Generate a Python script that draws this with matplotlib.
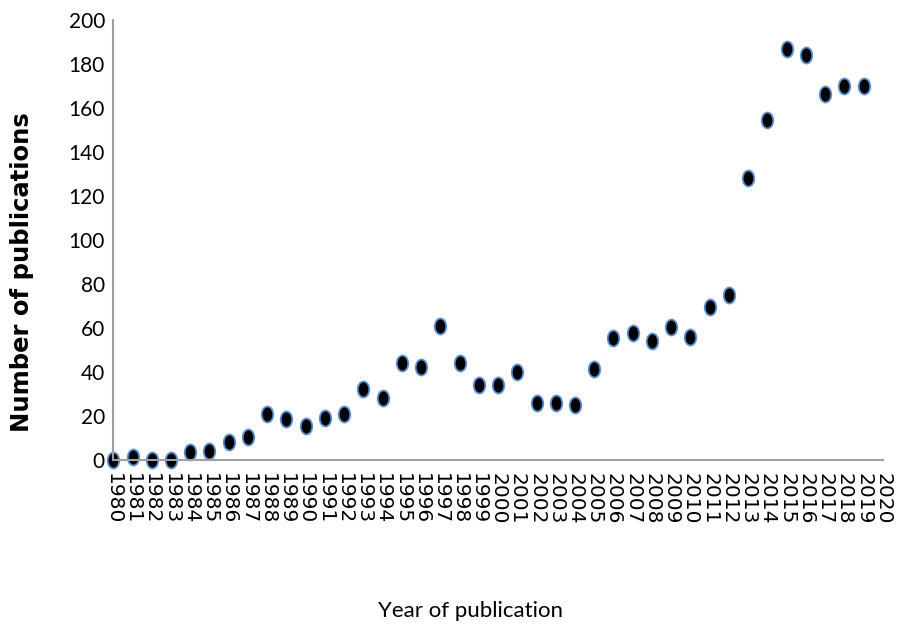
import numpy as np
import matplotlib.pyplot as plt
from matplotlib.path import Path
from matplotlib.transforms import Affine2D

# publications per year
years = list(range(1980, 2020))
pubs = [0, 1.5, 0, 0, 3.5, 4.3, 8.4, 10.7, 21, 18.6,
        15.6, 19, 21, 32.3, 28.2, 44.2, 42.3, 61, 44.2, 34.3,
        34.3, 40, 25.9, 25.9, 25.2, 41.5, 55.4, 57.7, 54.1, 60.7,
        56.1, 69.4, 75, 128.4, 154.5, 186.9, 184.1, 166.3, 170.1, 170]

xticks = list(range(1980, 2021))
yticks = list(range(0, 201, 20))

# slightly tall oval marker like the original
oval = Path.unit_circle().transformed(Affine2D().scale(0.72, 1.0))

fig = plt.figure(figsize=(8.99, 6.32), dpi=100)
ax = fig.add_axes([0.126, 0.272, 0.856, 0.696])

ax.plot(years, pubs, linestyle='none', marker=oval, markersize=11.5,
        markerfacecolor='black', markeredgecolor='#5b8fd0', markeredgewidth=1.3)

ax.set_xlim(1980, 2020)
ax.set_ylim(0, 200)
ax.set_xticks(xticks)
ax.set_xticklabels([str(t) for t in xticks], rotation=270, fontsize=14.5,
                   family='DejaVu Sans')
ax.set_yticks(yticks)
ax.set_yticklabels([str(t) for t in yticks], fontsize=15, family='Lato')
ax.tick_params(length=0, pad=6)
ax.tick_params(axis='x', pad=9)

for s in ['top', 'right']:
    ax.spines[s].set_visible(False)
for s in ['left', 'bottom']:
    ax.spines[s].set_color('#a0a0a0')
    ax.spines[s].set_linewidth(1.5)
for m in ax.lines:
    m.set_clip_on(False)

fig.text(0.025, 0.57, 'Number of publications', rotation=90, ha='center', va='center',
         fontsize=17.5, fontweight='bold', family='DejaVu Sans')
fig.text(0.523, 0.034, 'Year of publication', ha='center', va='center',
         fontsize=16, family='Lato')

fig.savefig('out.png', dpi=100)
